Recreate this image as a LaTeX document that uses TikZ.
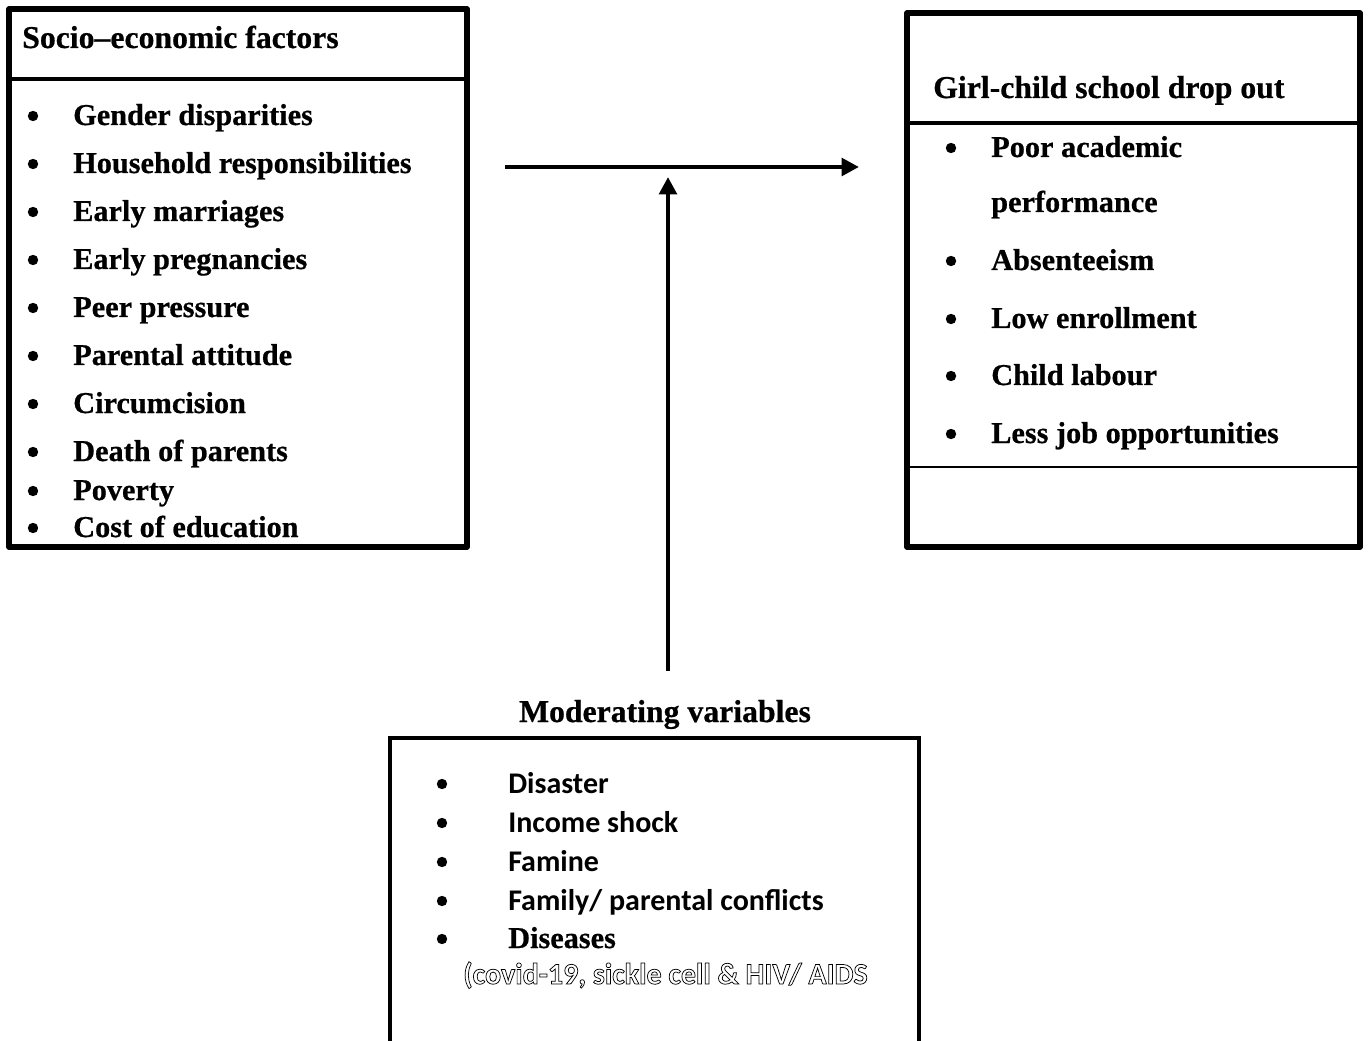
\documentclass[tikz,border=0pt]{standalone}
\usepackage{fontspec}
\setmainfont{Liberation Serif}[BoldFeatures={FakeBold=0.6}]
\newfontfamily\calibfont{Carlito}
\usetikzlibrary{arrows.meta}
\newcommand{\outlinetext}[1]{\special{pdf:code 1 Tr 0.55 w}#1\special{pdf:code 0 Tr}}
\tikzset{
  frame/.style={line width=4pt, line join=round},
  sepline/.style={line width=3.6pt},
  thinsep/.style={line width=1.4pt},
  itemL/.style={anchor=base west, inner sep=0pt, font=\fontsize{22.7}{27}\selectfont\bfseries},
  headL/.style={anchor=base west, inner sep=0pt, font=\fontsize{23.8}{28}\selectfont\bfseries},
  itemM/.style={anchor=base west, inner sep=0pt, font=\calibfont\fontsize{22.5}{26}\selectfont\bfseries},
  bul/.style={fill=black},
  conn/.style={line width=3.4pt, -{Triangle[length=13pt,width=13pt]}},
}
\begin{document}
\begin{tikzpicture}[x=0.75pt,y=-0.75pt]
\useasboundingbox[fill=white] (0,0) rectangle (1368,1041);
% left box
\draw[frame] (9,9) rectangle (467,547);
\draw[sepline] (9,79) -- (467,79);
\node[headL] (sochead) at (22,48) {Socio--economic factors};
\foreach \t/\b [count=\i] in {Gender disparities/125,Household responsibilities/173,Early marriages/221,Early pregnancies/269,Peer pressure/317,Parental attitude/365,Circumcision/413,Death of parents/461,Poverty/500,Cost of education/537}{
  \fill[bul] (33,\b-9) circle (5.2);
  \node[itemL] (soc\i) at (73,\b) {\t};
}
% right box
\draw[frame] (907,13) rectangle (1360,547);
\draw[sepline] (907,123) -- (1360,123);
\draw[thinsep] (907,467) -- (1360,467);
\node[headL] (girlhead) at (933,98) {Girl-child school drop out};
\foreach \t/\b [count=\i] in {Poor academic/157,Absenteeism/270,Low enrollment/328,Child labour/385,Less job opportunities/443}{
  \fill[bul] (951,\b-9) circle (5.2);
  \node[itemL] (girl\i) at (991,\b) {\t};
}
\node[itemL] (girlperf) at (991,212) {performance};
% arrows
\coordinate (hstart) at (505,167);
\coordinate (hend) at (859,167);
\coordinate (vstart) at (668,671);
\coordinate (vend) at (668,177);
\draw[conn] (hstart) -- (hend);
\draw[conn] (vstart) -- (vend);
% moderating
\node[anchor=base, inner sep=0pt, font=\fontsize{23.8}{28}\selectfont\bfseries] (modhead) at (665,722) {Moderating variables};
\draw[line width=3.2pt] (390,1050) -- (390,738) -- (919,738) -- (919,1050);
\foreach \t/\b [count=\i] in {Disaster/793,Income shock/832,Famine/871,{Family/ parental conflicts}/910}{
  \fill[bul] (442,\b-9) circle (5.2);
  \node[itemM] (mod\i) at (508,\b) {\t};
}
\fill[bul] (442,939) circle (5.2);
\node[itemL] (mod5) at (508,948) {Diseases};
\node[anchor=base west, inner sep=0pt, font=\calibfont\fontsize{22.5}{26}\selectfont\bfseries] (modnote) at (463,984) {\outlinetext{(covid-19, sickle cell \& HIV/ AIDS}};
\end{tikzpicture}
\end{document}
